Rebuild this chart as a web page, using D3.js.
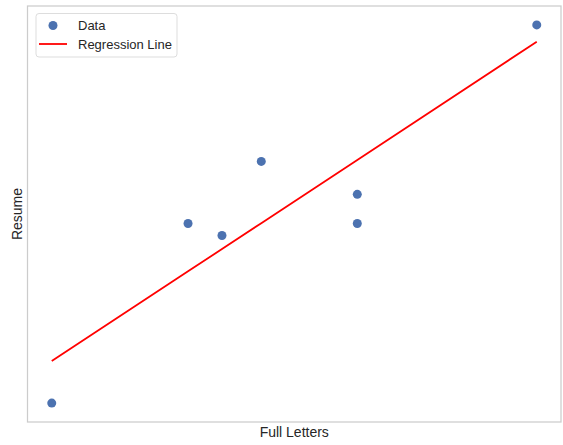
<!DOCTYPE html>
<html><head><meta charset="utf-8">
<script src="https://cdn.jsdelivr.net/npm/d3@7"></script>
<style>body{margin:0;background:#fff}svg{display:block}text{font-family:"Liberation Sans",Arial,sans-serif}</style>
</head><body><svg id="c" width="563" height="445"></svg>
<script>
const fullLetters = [0, 28.1, 35.1, 43.2, 63.0, 63.0, 100];
const resume      = [0, 47.5, 44.3, 63.9, 55.2, 47.5, 100];
const xLabel = "Full Letters", yLabel = "Resume";
const legendLabels = ["Data", "Regression Line"];

const svg = d3.select("#c");
const L = 27.5, R = 561, T = 6, B = 422;
const xExt = d3.extent(fullLetters), yExt = d3.extent(resume);
const xPad = (xExt[1]-xExt[0])*0.05, yPad = (yExt[1]-yExt[0])*0.05;
const x = d3.scaleLinear().domain([xExt[0]-xPad, xExt[1]+xPad]).range([L, R]);
const y = d3.scaleLinear().domain([yExt[0]-yPad, yExt[1]+yPad]).range([B, T]);

// least squares fit
const mx = d3.mean(fullLetters), my = d3.mean(resume);
let sxy = 0, sxx = 0;
fullLetters.forEach((v,i)=>{ sxy += (v-mx)*(resume[i]-my); sxx += (v-mx)*(v-mx); });
const slope = sxy/sxx, icpt = my - slope*mx;

svg.append("rect").attr("x",L).attr("y",T).attr("width",R-L).attr("height",B-T)
  .attr("fill","#fff").attr("stroke","#cccccc").attr("stroke-width",1.25);

const data = fullLetters.map((v,i)=>({x:v,y:resume[i]}));
svg.append("g").selectAll("circle").data(data).join("circle")
  .attr("cx",d=>x(d.x)).attr("cy",d=>y(d.y)).attr("r",4.5).attr("fill","#4c72b0");

const line = d3.line().x(d=>x(d)).y(d=>y(icpt+slope*d));
svg.append("path").datum(fullLetters).attr("d",line).attr("fill","none")
  .attr("stroke","#ff0000").attr("stroke-width",1.8);

svg.append("text").attr("x",(L+R)/2).attr("y",437).attr("text-anchor","middle")
  .attr("font-size",14).attr("fill","#262626").text(xLabel);
svg.append("text").attr("transform",`translate(22,${(T+B)/2}) rotate(-90)`).attr("text-anchor","middle")
  .attr("font-size",14).attr("fill","#262626").text(yLabel);

// legend
const lg = svg.append("g");
lg.append("rect").attr("x",36).attr("y",13.5).attr("width",141).attr("height",43.5).attr("rx",3)
  .attr("fill","#fff").attr("fill-opacity",0.8).attr("stroke","#dddddd").attr("stroke-width",1);
lg.append("circle").attr("cx",53).attr("cy",25.5).attr("r",4.5).attr("fill","#4c72b0");
lg.append("line").attr("x1",39).attr("x2",67).attr("y1",44).attr("y2",44).attr("stroke","#ff0000").attr("stroke-width",1.8);
lg.selectAll("text.l").data(legendLabels).join("text").attr("class","l")
  .attr("x",78).attr("y",(d,i)=>30+i*18.5).attr("font-size",13).attr("fill","#262626").text(d=>d);
</script></body></html>
